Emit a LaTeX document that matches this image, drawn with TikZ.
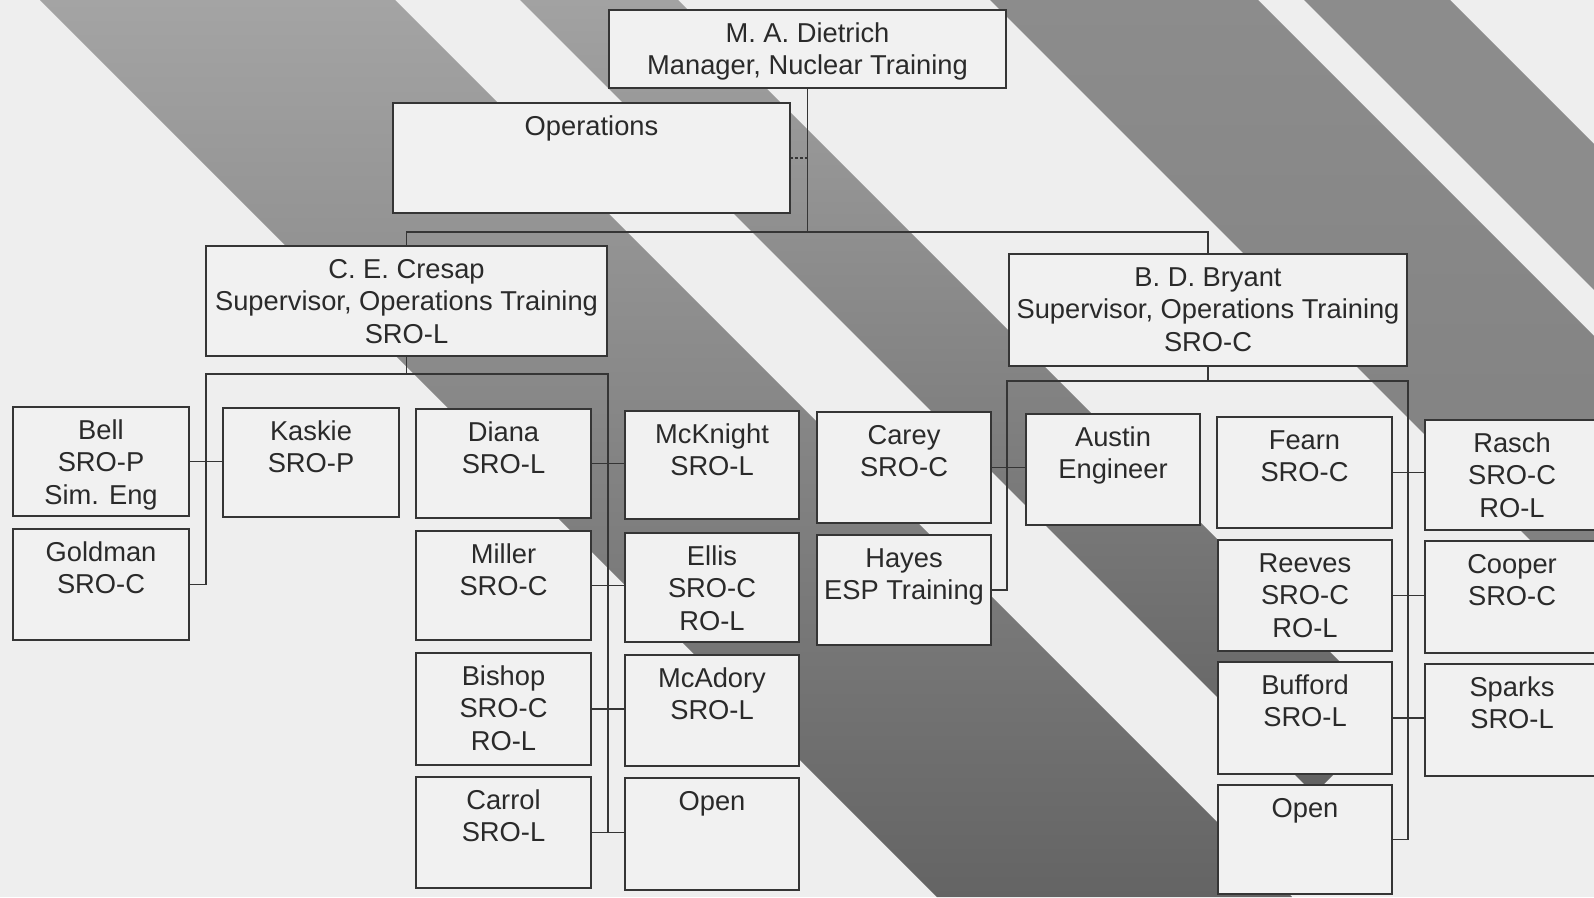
\documentclass[tikz,border=0pt]{standalone}
\usepackage{fontspec}
\setmainfont{Liberation Sans}
\definecolor{bgc}{HTML}{EEEEEE}
\definecolor{boxc}{HTML}{F1F1F1}
\definecolor{linec}{HTML}{353535}
\definecolor{textc}{HTML}{2A2A2A}
\definecolor{bandAt}{HTML}{A4A4A4}
\definecolor{bandAm}{HTML}{969696}
\definecolor{bandAb}{HTML}{646464}
\definecolor{bandBt}{HTML}{A2A2A2}
\definecolor{bandBm}{HTML}{8A8A8A}
\definecolor{bandBb}{HTML}{616161}
\definecolor{bandCt}{HTML}{8C8C8C}
\definecolor{bandCb}{HTML}{7A7A7A}
\definecolor{bandD}{HTML}{8C8C8C}
\newcommand\OBox[6]{%
  \node[orgbox] (#1) at ({(#2+#4)/2},{(#3+#5)/2})
  {\parbox[c][\dimexpr #5pt-#3pt\relax][t]{\dimexpr #4pt-#2pt\relax}{\centering\rule{0pt}{32pt}#6}};}
\begin{document}
\begin{tikzpicture}[x=1pt,y=-1pt,
  orgbox/.style={draw=linec,line width=1.9pt,fill=boxc,inner sep=0pt,outer sep=0pt,
    font=\fontsize{27.3}{32.5}\selectfont,text=textc},
  conn/.style={draw=linec,line width=1.9pt},
  dotconn/.style={draw=linec,line width=1.3pt,dash pattern=on 2.5pt off 2.5pt}]
\useasboundingbox (0,0) rectangle (1594,897);
\clip (0,0) rectangle (1594,897);
% background and scan stripes
\fill[bgc] (0,0) rectangle (1594,897);
\shade[top color=bandAt,middle color=bandAm,bottom color=bandAb]
  (40,0) -- (395,0) -- (1292,897) -- (937,897) -- cycle;
\shade[top color=bandBt,middle color=bandBm,bottom color=bandBb]
  (520,0) -- (678,0) -- (1393,715) -- (1314,794) -- cycle;
\shade[top color=bandCt,bottom color=bandCb]
  (990,0) -- (1258,0) -- (2155,897) -- (1887,897) -- cycle;
\fill[bandD] (1304,0) -- (1450,0) -- (2347,897) -- (2201,897) -- cycle;
% named levels of the connector buses
\coordinate (bus) at (0,232);
\coordinate (cbus) at (0,374);
\coordinate (bbus) at (0,381);
\coordinate (cl) at (206,374);
\coordinate (cr) at (608,374);
\coordinate (bl) at (1007,381);
\coordinate (br) at (1408,381);
% boxes
\OBox{dietrich}{609}{10}{1006}{88}{M. A. Dietrich\\Manager, Nuclear Training}
\OBox{ops}{393}{103}{790}{213}{Operations}
\OBox{cresap}{206}{246}{607}{356}{C. E. Cresap\\Supervisor, Operations Training\\SRO-L}
\OBox{bryant}{1009}{254}{1407}{366}{B. D. Bryant\\Supervisor, Operations Training\\SRO-C}
\OBox{bell}{13}{407}{189}{516}{Bell\\SRO-P\\Sim. Eng}
\OBox{goldman}{13}{529}{189}{640}{Goldman\\SRO-C}
\OBox{kaskie}{223}{408}{399}{517}{Kaskie\\SRO-P}
\OBox{diana}{416}{409}{591}{518}{Diana\\SRO-L}
\OBox{miller}{416}{531}{591}{640}{Miller\\SRO-C}
\OBox{bishop}{416}{653}{591}{765}{Bishop\\SRO-C\\RO-L}
\OBox{carrol}{416}{777}{591}{888}{Carrol\\SRO-L}
\OBox{mcknight}{625}{411}{799}{519}{McKnight\\SRO-L}
\OBox{ellis}{625}{533}{799}{642}{Ellis\\SRO-C\\RO-L}
\OBox{mcadory}{625}{655}{799}{766}{McAdory\\SRO-L}
\OBox{openA}{625}{778}{799}{890}{Open}
\OBox{carey}{817}{412}{991}{523}{Carey\\SRO-C}
\OBox{hayes}{817}{535}{991}{645}{Hayes\\ESP Training}
\OBox{austin}{1026}{414}{1200}{525}{Austin\\Engineer}
\OBox{fearn}{1217}{417}{1392}{528}{Fearn\\SRO-C}
\OBox{reeves}{1218}{540}{1392}{651}{Reeves\\SRO-C\\RO-L}
\OBox{bufford}{1218}{662}{1392}{774}{Bufford\\SRO-L}
\OBox{openB}{1218}{785}{1392}{894}{Open}
\OBox{rasch}{1425}{420}{1599}{530}{Rasch\\SRO-C\\RO-L}
\OBox{cooper}{1425}{541}{1599}{653}{Cooper\\SRO-C}
\OBox{sparks}{1425}{664}{1599}{776}{Sparks\\SRO-L}
% connectors
\draw[conn] (dietrich.south) -- (dietrich.south |- bus);
\draw[conn] (cresap.north) -- (cresap.north |- bus) -- (bryant.north |- bus) -- (bryant.north);
\draw[dotconn] (ops.east) -- (ops.east -| dietrich.south);
\draw[conn] (cresap.south) -- (cresap.south |- cbus);
\draw[conn] (goldman.east) -| (cl) -- (cr) |- (carrol.east);
\draw[conn] (bell.east) -- (bell.east -| kaskie.west);
\draw[conn] (diana.east) -- (diana.east -| mcknight.west);
\draw[conn] (miller.east) -- (miller.east -| ellis.west);
\draw[conn] (bishop.east) -- (bishop.east -| mcadory.west);
\draw[conn] (carrol.east) -- (carrol.east -| openA.west);
\draw[conn] (bryant.south) -- (bryant.south |- bbus);
\draw[conn] (hayes.east) -| (bl) -- (br) |- (openB.east);
\draw[conn] (carey.east) -- (carey.east -| austin.west);
\draw[conn] (fearn.east) -- (fearn.east -| rasch.west);
\draw[conn] (reeves.east) -- (reeves.east -| cooper.west);
\draw[conn] (bufford.east) -- (bufford.east -| sparks.west);
\end{tikzpicture}
\end{document}
